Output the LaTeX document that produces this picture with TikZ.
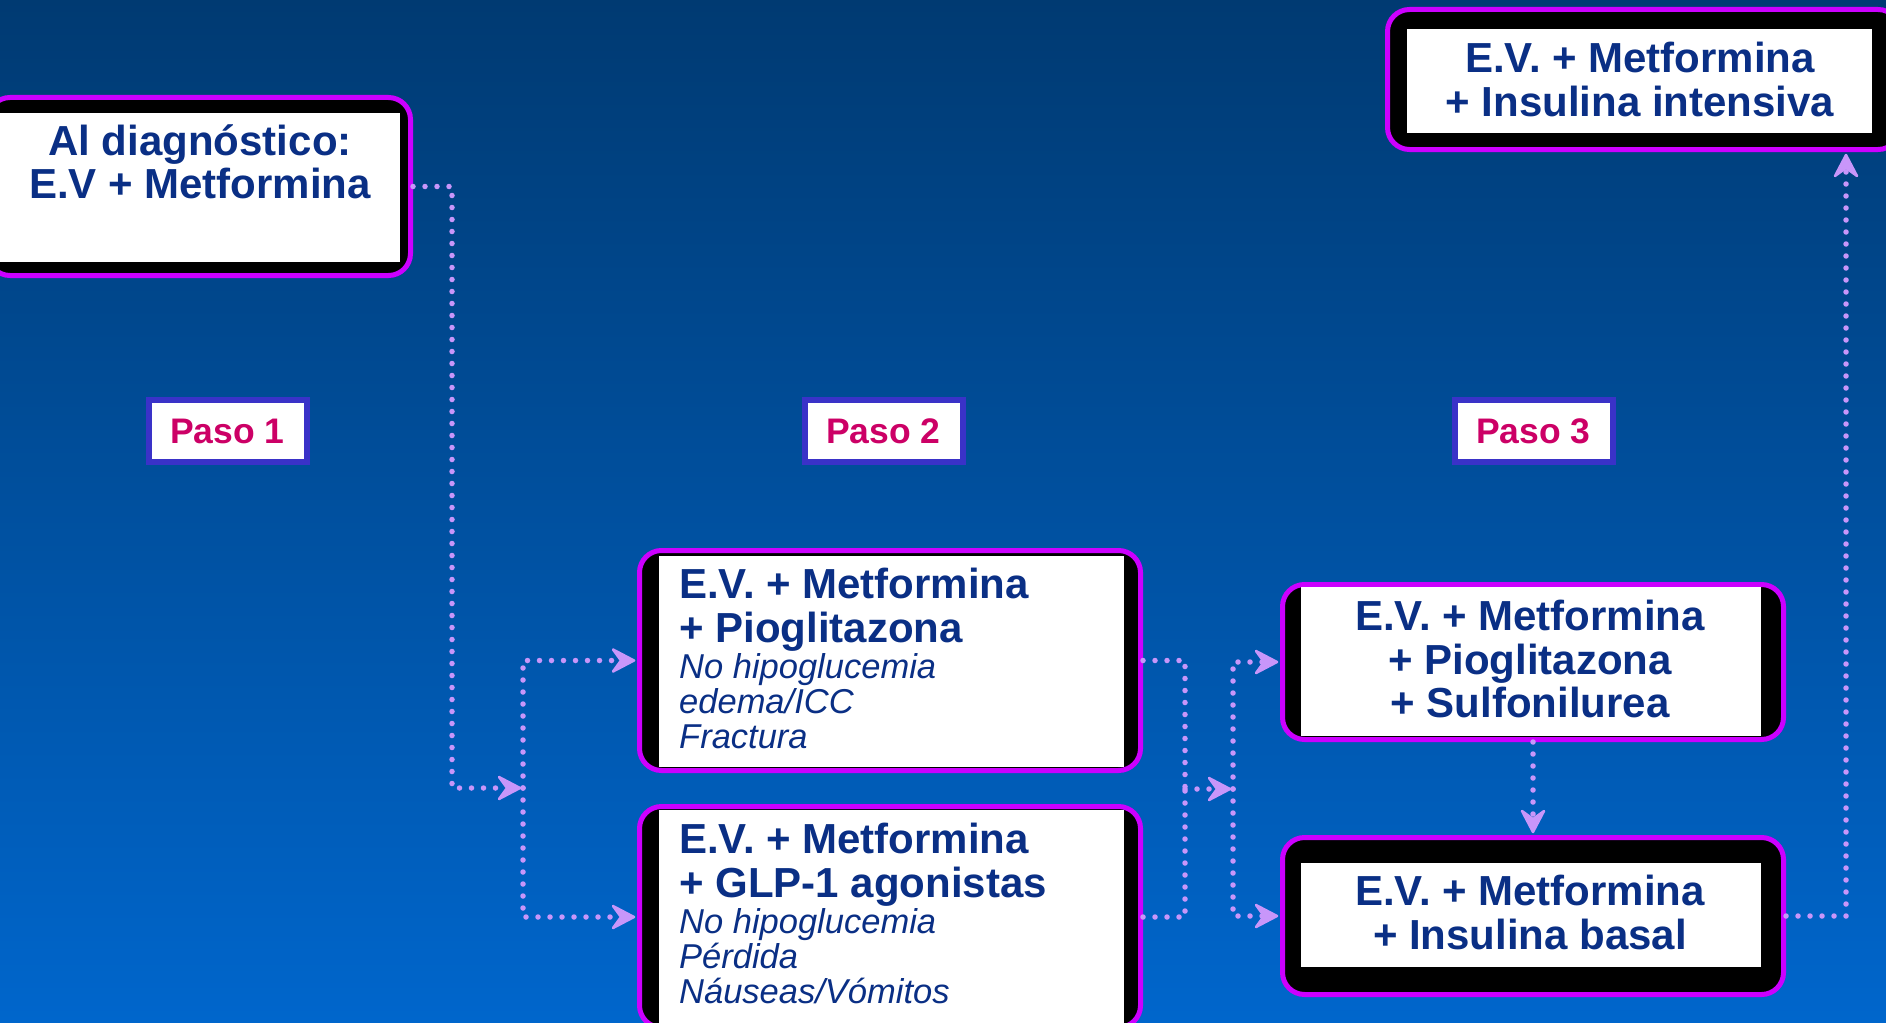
\documentclass[tikz,border=0pt]{standalone}
\usepackage{fontspec}
\setmainfont{Liberation Sans}
\definecolor{fondoA}{RGB}{0,58,114}
\definecolor{fondoB}{RGB}{0,102,204}
\definecolor{lila}{RGB}{204,0,255}
\definecolor{azul}{RGB}{10,47,133}
\definecolor{rojo}{RGB}{204,0,102}
\definecolor{pasoborde}{RGB}{58,50,200}
\definecolor{puntos}{RGB}{200,150,250}
\tikzset{
  caja/.style = {draw=lila, line width=5pt, fill=black, rounded corners=22pt, inner sep=0pt},
  panel/.style = {fill=white, inner sep=0pt},
  titulo/.style = {font=\fontsize{42}{43.5}\selectfont\bfseries, text=azul, inner sep=0pt},
  nota/.style = {font=\fontsize{34.5}{35}\selectfont\itshape, text=azul, inner sep=0pt, align=left},
  paso/.style = {draw=pasoborde, line width=6pt, fill=white, minimum width=158pt,
    minimum height=62pt, inner sep=0pt, text=rojo, font=\fontsize{35.5}{40}\selectfont\bfseries},
  linea/.style = {draw=puntos, line width=5.5pt, line cap=round, dash pattern=on 0pt off 12pt},
  conector/.style = {linea, shorten >=16pt},
  punta/.style = {fill=puntos, draw=puntos, line width=2.5pt, line join=round}
}
\begin{document}
\begin{tikzpicture}[x=1pt, y=-1pt]
% background
\useasboundingbox (0,0) rectangle (1886,1022);
\fill[top color=fondoA, bottom color=fondoB] (0,0) rectangle (1886,1022);

% The boxes
\node[caja, minimum width=422.5pt, minimum height=178pt] (diag) at (199.25,186.5) {};
\node[caja, minimum width=501pt, minimum height=220pt] (piog) at (890,660.5) {};
\node[caja, minimum width=501pt, minimum height=221pt] (glp) at (890,917) {};
\node[caja, minimum width=501pt, minimum height=155pt] (sulfo) at (1533,662) {};
\node[caja, minimum width=501pt, minimum height=157pt] (basal) at (1533,916) {};
\node[caja, minimum width=512.5pt, minimum height=140pt] (intens) at (1643.75,79.5) {};

\node[panel, minimum width=412pt, minimum height=149pt] (diagpanel) at (194,187.5) {};
\node[panel, minimum width=465pt, minimum height=211pt] (piogpanel) at (891.5,661.5) {};
\node[panel, minimum width=465pt, minimum height=225pt] (glppanel) at (891.5,922.5) {};
\node[panel, minimum width=460pt, minimum height=149pt] (sulfopanel) at (1531,661.5) {};
\node[panel, minimum width=460pt, minimum height=104pt] (basalpanel) at (1531,915) {};
\node[panel, minimum width=465pt, minimum height=104pt] (intenspanel) at (1639.5,81) {};

% Texts
\node[titulo, align=center, anchor=north] (diagtxt) at (200,124) {Al diagnóstico:\\E.V + Metformina};
\node[titulo, align=left, anchor=north west] (piogtxt) at (679,568) {E.V. + Metformina\\+ Pioglitazona};
\node[nota, anchor=north west] (piognota) at (679,653) {No hipoglucemia\\edema/ICC\\Fractura};
\node[titulo, align=left, anchor=north west] (glptxt) at (679,823) {E.V. + Metformina\\+ GLP-1 agonistas};
\node[nota, anchor=north west] (glpnota) at (679,908) {No hipoglucemia\\Pérdida\\Náuseas/Vómitos};
\node[titulo, align=center, anchor=north] (sulfotxt) at (1530,600) {E.V. + Metformina\\+ Pioglitazona\\+ Sulfonilurea};
\node[titulo, align=center, anchor=north] (basaltxt) at (1530,875) {E.V. + Metformina\\+ Insulina basal};
\node[titulo, align=center, anchor=north] (intenstxt) at (1640,42) {E.V. + Metformina\\+ Insulina intensiva};

% Steps
\node[paso] (paso1) at (227.5,431) {Paso 1};
\node[paso] (paso2) at (883.5,431) {Paso 2};
\node[paso] (paso3) at (1533.5,431) {Paso 3};

% Location of the bends
\coordinate (m1) at (452,788);
\coordinate (j1) at (523,788);
\coordinate (m2) at (1185,789);
\coordinate (j2) at (1233,789);
\coordinate (m3) at (1846,916);

% The connectors
\draw[conector] (diag.east) -| (m1) -- (j1);
\draw[conector] (j1) |- (piog.west);
\draw[conector] (j1) |- (glp.west);
\draw[linea] (piog.east) -| (m2);
\draw[linea] (glp.east) -| (m2);
\draw[conector] (m2) -- (j2);
\draw[conector] (j2) |- (sulfo.west);
\draw[conector] (j2) |- (basal.west);
\draw[conector] (sulfo.south) -- (basal.north);
\draw[conector] (basal.east) -| (intens.south -| m3);

% Arrow tips
\foreach \n in {j1, piog.west, glp.west, j2, sulfo.west, basal.west}
  \filldraw[punta, shift={(\n)}] (-3,0) -- (-24,-11) -- (-16,0) -- (-24,11) -- cycle;
\filldraw[punta, shift={(basal.north)}] (0,-3) -- (-11,-24) -- (0,-16) -- (11,-24) -- cycle;
\filldraw[punta, shift={(intens.south -| m3)}] (0,3) -- (-11,24) -- (0,16) -- (11,24) -- cycle;
\end{tikzpicture}
\end{document}
